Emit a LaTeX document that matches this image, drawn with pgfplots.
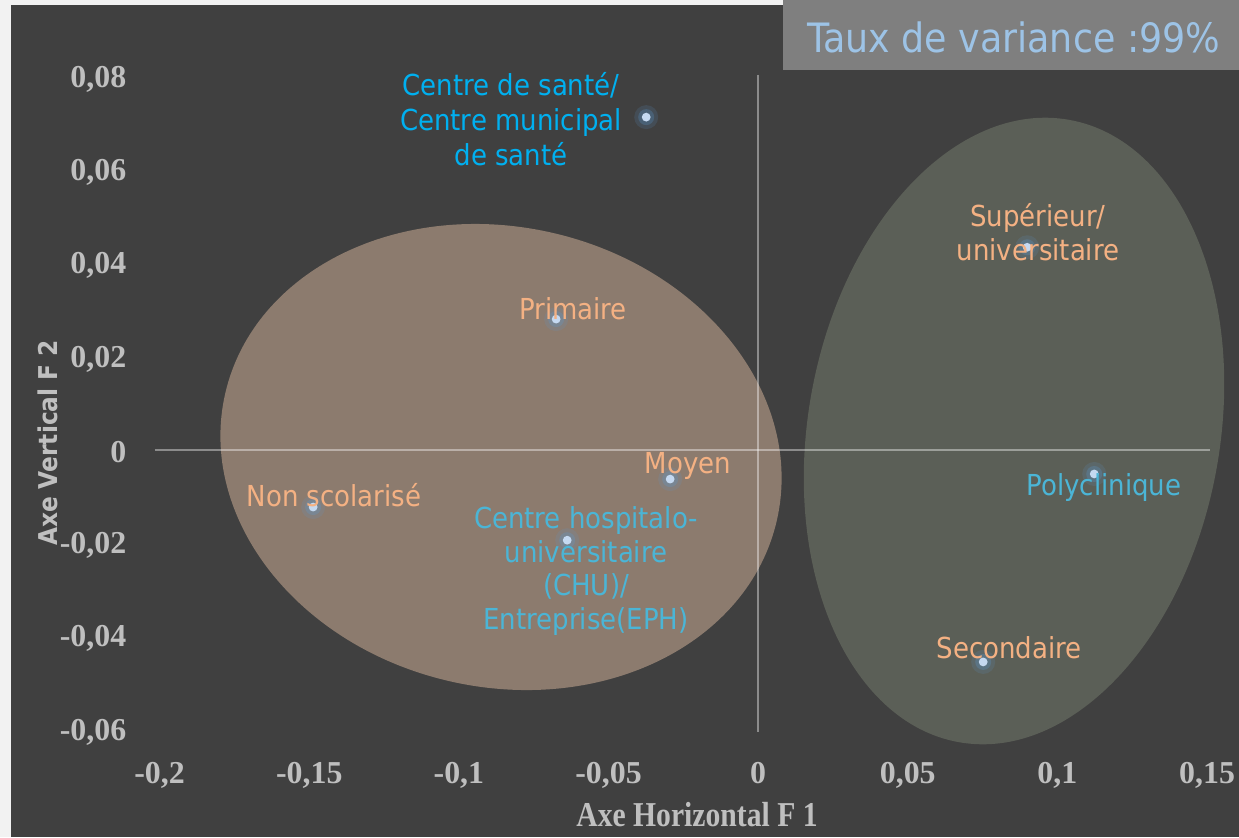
\documentclass[border=0pt]{standalone}
\usepackage{fontspec}
\usepackage{pgfplots}
\usepackage{pgfplotstable}
\pgfplotsset{compat=1.18}
\setmainfont{Liberation Serif}
\newfontfamily\lab{DejaVu Sans Condensed}
\newfontfamily\titx[FakeStretch=0.85]{Liberation Serif}
\definecolor{bg}{HTML}{404040}
\definecolor{boxg}{HTML}{7F7F7F}
\definecolor{lblue}{HTML}{9DC3E6}
\definecolor{dotc}{HTML}{C5D9F1}
\definecolor{glow}{HTML}{5B9BD5}
\definecolor{peach}{HTML}{F4B183}
\definecolor{cyanA}{HTML}{00B0F0}
\definecolor{cyanB}{HTML}{4BB5D6}
\definecolor{brownE}{HTML}{8C7B6E}
\definecolor{greenE}{HTML}{5B5F57}
\definecolor{tickc}{HTML}{BFBFBF}
\pgfplotstableread{
x y
-0.0374 0.0714
0.0899 0.0435
-0.0675 0.0281
-0.0294 -0.0062
-0.1487 -0.0122
-0.0638 -0.0193
0.1123 -0.0051
0.0752 -0.0454
}\pts
\begin{document}
\begin{tikzpicture}
\begin{scope}[x=0.5bp,y=-0.5bp]
\path[use as bounding box] (0,0) rectangle (1239,837);
\fill[white!95!black] (0,0) rectangle (1239,837);
\fill[bg] (11,5) rectangle (1239,837);
\fill[brownE, rotate around={-13:(501,457)}] (501,457) ellipse [x radius=141.5bp, y radius=115bp];
\fill[greenE, rotate around={-10:(1014,431)}] (1014,431) ellipse [x radius=103bp, y radius=158bp];
\end{scope}
\begin{axis}[at={(79.8bp,-365bp)}, anchor=south west, scale only axis,
  width=523.7bp, height=326.5bp,
  xmin=-0.2, xmax=0.15, ymin=-0.06, ymax=0.08,
  clip=false, scaled ticks=false,
  axis line style={draw=none}, major tick length=0pt,
  xtick={-0.2,-0.15,-0.1,-0.05,0,0.05,0.1,0.15},
  xticklabels={{-0,2},{-0,15},{-0,1},{-0,05},0,{0,05},{0,1},{0,15}},
  ytick={-0.06,-0.04,-0.02,0,0.02,0.04,0.06,0.08},
  yticklabels={{-0,06},{-0,04},{-0,02},0,{0,02},{0,04},{0,06},{0,08}},
  tick label style={font=\bfseries\fontsize{16}{16}\selectfont, text=tickc, inner sep=0pt},
  xticklabel style={anchor=base, yshift=-26.5bp},
  yticklabel style={anchor=east, xshift=-16.5bp, yshift=-1bp},
]
\draw[white, opacity=0.4, line width=1.1bp] (axis cs:-0.2017,0) -- (axis cs:0.151,0);
\draw[white, opacity=0.4, line width=1.1bp] (axis cs:0,0.0805) -- (axis cs:0,-0.0605);
\addplot[only marks, mark=*, mark size=6bp, color=glow, mark options={draw opacity=0, fill=glow, fill opacity=0.15}] table {\pts};
\addplot[only marks, mark=*, mark size=4bp, color=glow, mark options={draw opacity=0, fill=glow, fill opacity=0.25}] table {\pts};
\addplot[only marks, mark=*, mark size=2.2bp, color=dotc, mark options={draw opacity=0, fill=dotc}] table {\pts};
\end{axis}
\begin{scope}[x=0.5bp,y=-0.5bp]
\tikzset{lbl/.style={align=center, inner sep=0pt, font=\lab\fontsize{14.5}{17}\selectfont}}
\node[lbl, text=cyanA, font=\lab\fontsize{14.5}{17.5}\selectfont] at (511,119) {Centre de santé/\\Centre municipal\\de santé};
\node[lbl, text=peach] at (1038,232) {Supérieur/\\universitaire};
\node[lbl, text=peach] at (573,309) {Primaire};
\node[lbl, text=peach] at (688,466) {Moyen};
\node[lbl, text=peach] at (334,495) {Non scolarisé};
\node[lbl, text=cyanB] at (586,571) {Centre hospitalo-\\universitaire\\(CHU)/\\Entreprise(EPH)};
\node[lbl, text=cyanB] at (1104,488) {Polyclinique};
\node[lbl, text=peach] at (1009,648) {Secondaire};
\fill[boxg] (783,0) rectangle (1239,70);
\node[text=lblue, inner sep=0pt, font=\lab\fontsize{20.3}{24}\selectfont] at (1014,37) {Taux de variance :99\%};
\node[text=tickc, inner sep=0pt, font=\titx\bfseries\fontsize{17.5}{20}\selectfont] at (697,815) {Axe Horizontal F 1};
\node[rotate=90, text=tickc, inner sep=0pt, font=\lab\bfseries\fontsize{13}{15}\selectfont] at (48,443) {Axe Vertical F 2};
\end{scope}
\end{tikzpicture}
\end{document}
